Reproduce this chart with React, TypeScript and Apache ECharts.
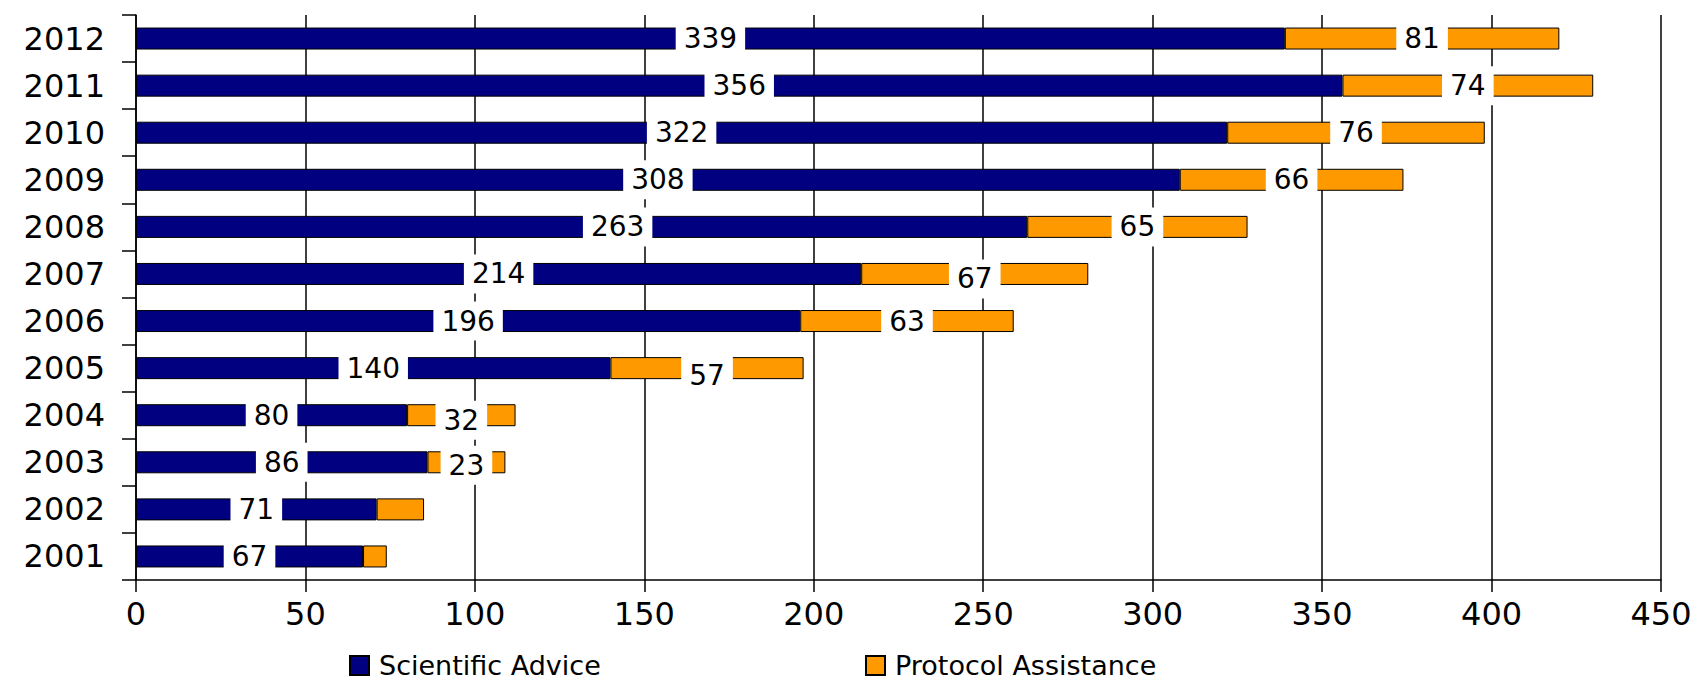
import React, { useEffect, useRef } from "react";
import * as echarts from "echarts";

const years = ["2001", "2002", "2003", "2004", "2005", "2006", "2007", "2008", "2009", "2010", "2011", "2012"];
const scientificAdvice = [67, 71, 86, 80, 140, 196, 214, 263, 308, 322, 356, 339];
const protocolAssistance = [7, 14, 23, 32, 57, 63, 67, 65, 66, 76, 74, 81];
const unlabeledProtocolYears = ["2001", "2002"];
const xTicks = [0, 50, 100, 150, 200, 250, 300, 350, 400, 450];

// label placement nudges as seen in the reference (style only)
const saLabelNudge: Record<string, [number, number]> = { "2008": [36, 0] };
const paLabelNudge: Record<string, [number, number]> = {
  "2003": [0, 3],
  "2004": [0, 5],
  "2005": [0, 7],
  "2007": [0, 5],
};

const FONT = "'DejaVu Sans', Verdana, sans-serif";

export default function App() {
  const ref = useRef<HTMLDivElement>(null);
  useEffect(() => {
    if (!ref.current) return;
    const chart = echarts.init(ref.current, null, { renderer: "svg" });
    const labelStyle = {
      show: true,
      position: "inside" as const,
      color: "#000",
      fontFamily: FONT,
      fontSize: 28,
      backgroundColor: "#fff",
      padding: [6, 8, 5, 8],
      formatter: (p: any) => String(p.value),
    };
    const legendText = { fontSize: 27, color: "#000", fontFamily: FONT, padding: [0, 0, 0, 5] };
    chart.setOption({
      animation: false,
      backgroundColor: "#fff",
      textStyle: { fontFamily: FONT },
      grid: { left: 136, right: 39, top: 15, bottom: 101, containLabel: false },
      legend: [
        {
          data: ["Scientific Advice"],
          left: 349,
          top: 652,
          padding: 0,
          itemWidth: 19,
          itemHeight: 19,
          textStyle: legendText,
          icon: "rect",
        },
        {
          data: ["Protocol Assistance"],
          left: 865,
          top: 652,
          padding: 0,
          itemWidth: 19,
          itemHeight: 19,
          textStyle: legendText,
          icon: "rect",
        },
      ],
      xAxis: {
        type: "value",
        min: xTicks[0],
        max: xTicks[xTicks.length - 1],
        interval: xTicks[1] - xTicks[0],
        axisLine: { show: true, lineStyle: { color: "#000", width: 1.5 } },
        axisTick: { show: true, length: 12, lineStyle: { color: "#000", width: 1.5 } },
        axisLabel: { color: "#000", fontSize: 32, margin: 18, fontFamily: FONT },
        splitLine: { show: true, lineStyle: { color: "#000", width: 1.5 } },
      },
      yAxis: {
        type: "category",
        data: years,
        axisLine: { show: true, lineStyle: { color: "#000", width: 1.5 } },
        axisTick: { show: true, length: 14, lineStyle: { color: "#000", width: 1.5 } },
        axisLabel: { color: "#000", fontSize: 32, margin: 31, fontFamily: FONT },
      },
      series: [
        {
          name: "Scientific Advice",
          type: "bar",
          stack: "total",
          barWidth: 22,
          data: scientificAdvice.map((v, i) =>
            saLabelNudge[years[i]] ? { value: v, label: { offset: saLabelNudge[years[i]] } } : v
          ),
          itemStyle: { color: "#000080", borderColor: "#000", borderWidth: 1 },
          label: labelStyle,
        },
        {
          name: "Protocol Assistance",
          type: "bar",
          stack: "total",
          barWidth: 22,
          data: protocolAssistance.map((v, i) => {
            const y = years[i];
            if (unlabeledProtocolYears.includes(y)) return { value: v, label: { show: false } };
            if (paLabelNudge[y]) return { value: v, label: { offset: paLabelNudge[y] } };
            return v;
          }),
          itemStyle: { color: "#FF9900", borderColor: "#000", borderWidth: 1 },
          label: labelStyle,
        },
      ],
    });
    return () => chart.dispose();
  }, []);
  return <div ref={ref} style={{ width: 1700, height: 681, position: "absolute", left: 0, top: 0 }} />;
}
